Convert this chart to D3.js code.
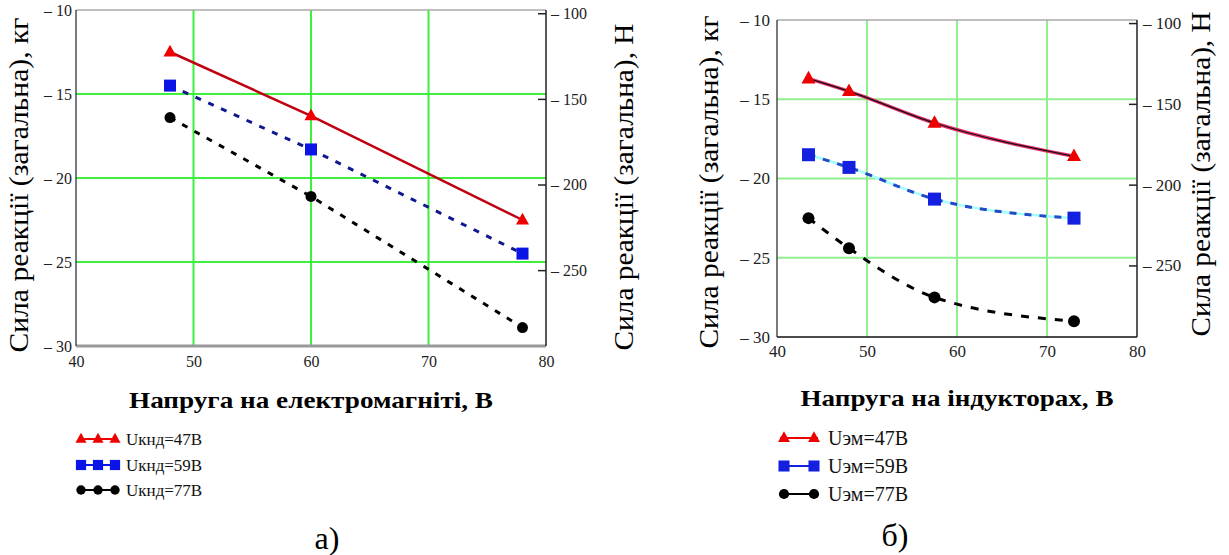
<!DOCTYPE html>
<html>
<head>
<meta charset="utf-8">
<script src="https://cdn.jsdelivr.net/npm/d3@7"></script>
<style>
  body { margin: 0; background: #fff; }
  svg text { font-family: 'Liberation Serif', 'Times New Roman', Tinos, 'Noto Serif', 'DejaVu Serif', serif !important; }
</style>
</head>
<body>
<div id="chart"></div>
<script>
// values
var xLeft = [48, 60, 78];
var redLeft = [-12.5, -16.3, -22.5];
var blueLeft = [-14.5, -18.3, -24.5];
var blackLeft = [-16.4, -21.1, -28.9];

var xRight = [43.5, 48, 57.5, 73];
var redRight = [-13.7, -14.5, -16.5, -18.6];
var blueRight = [-18.5, -19.3, -21.3, -22.5];
var blackRight = [-22.5, -24.4, -27.5, -29.0];

var xTicks = [40, 50, 60, 70, 80];
var kgTicks = [-10, -15, -20, -25, -30];
var nTicks = [-100, -150, -200, -250];
var gridX = [50, 60, 70];
var gridY = [-15, -20, -25];

var legendLeft = ["Uкнд=47В", "Uкнд=59В", "Uкнд=77В"];
var legendRight = ["Uэм=47В", "Uэм=59В", "Uэм=77В"];

var yTitle = "Сила реакції (загальна), кг";
var nTitle = "Сила реакції (загальна), Н";
var g = 9.81;
var serif = "'Liberation Serif', 'Times New Roman', Tinos, 'Noto Serif', 'DejaVu Serif', serif";

var svg = d3.select("#chart").append("svg")
    .attr("width", 1229)
    .attr("height", 555)
    .attr("font-family", serif);

function marker(sel, type, color, size) {
  if (type == "tri") {
    var h = size * 0.9;
    sel.append("path")
      .attr("d", "M0," + (-h * 0.62) + "L" + (size / 2) + "," + (h * 0.38) + "L" + (-size / 2) + "," + (h * 0.38) + "Z")
      .attr("fill", color);
  } else if (type == "sq") {
    sel.append("rect").attr("x", -size / 2).attr("y", -size / 2)
      .attr("width", size).attr("height", size).attr("fill", color);
  } else {
    sel.append("circle").attr("r", size / 2).attr("fill", color);
  }
}

function drawChart(c) {
  var x = d3.scaleLinear().domain([40, 80]).range([c.x0, c.x1]);
  var y = d3.scaleLinear().domain([-30, -10]).range([c.y1, c.y0]);
  var yn = d3.scaleLinear().domain([-30 * g, -10 * g]).range([c.y1, c.y0]);

  // grid
  svg.append("g").selectAll("line").data(gridX).enter().append("line")
    .attr("x1", function(d) { return x(d); }).attr("x2", function(d) { return x(d); })
    .attr("y1", c.y0).attr("y2", c.y1)
    .attr("stroke", c.grid).attr("stroke-width", 2);
  svg.append("g").selectAll("line").data(gridY).enter().append("line")
    .attr("y1", function(d) { return y(d); }).attr("y2", function(d) { return y(d); })
    .attr("x1", c.x0).attr("x2", c.x1)
    .attr("stroke", c.grid).attr("stroke-width", 2);

  // frame
  svg.append("line").attr("x1", c.x0).attr("x2", c.x1).attr("y1", c.y0).attr("y2", c.y0)
    .attr("stroke", "#aaa").attr("stroke-width", 1.5);
  svg.append("line").attr("x1", c.x0).attr("x2", c.x1).attr("y1", c.y1).attr("y2", c.y1)
    .attr("stroke", c.bottomColor).attr("stroke-width", c.bottomWidth);
  svg.append("line").attr("x1", c.x0).attr("x2", c.x0).attr("y1", c.y0).attr("y2", c.y1)
    .attr("stroke", "#222").attr("stroke-width", 1.2);
  svg.append("line").attr("x1", c.x1).attr("x2", c.x1).attr("y1", c.y0).attr("y2", c.y1)
    .attr("stroke", "#222").attr("stroke-width", 1.5);

  // axes
  var ax = svg.append("g").attr("transform", "translate(0," + c.y1 + ")")
    .call(d3.axisBottom(x).tickValues(xTicks).tickSize(0).tickPadding(c.xPad));
  var al = svg.append("g").attr("transform", "translate(" + c.x0 + ",0)")
    .call(d3.axisLeft(y).tickValues(kgTicks).tickSize(0).tickPadding(c.lPad)
      .tickFormat(function(d) { return "– " + Math.abs(d); }));
  var ar = svg.append("g").attr("transform", "translate(" + c.x1 + ",0)")
    .call(d3.axisRight(yn).tickValues(nTicks).tickSize(-8).tickPadding(c.rPad)
      .tickFormat(function(d) { return "– " + Math.abs(d); }));
  [ax, al, ar].forEach(function(a) {
    a.attr("font-family", serif);
    a.select(".domain").remove();
    a.selectAll("text").attr("font-size", c.tickFont).attr("fill", "#222");
    a.selectAll("line").attr("stroke", "#222").attr("stroke-width", 1.5);
  });

  // series
  c.series.forEach(function(s) {
    var pts = c.xs.map(function(d, i) { return [x(d), y(s.values[i])]; });
    var line = d3.line().curve(c.curve);
    s.strokes.forEach(function(st) {
      svg.append("path").attr("d", line(pts)).attr("fill", "none")
        .attr("stroke", st.color).attr("stroke-width", st.width)
        .attr("stroke-dasharray", st.dash || null);
    });
    pts.forEach(function(p) {
      marker(svg.append("g").attr("transform", "translate(" + p[0] + "," + p[1] + ")"), s.type, s.color, s.size);
    });
  });

  // titles
  svg.append("text").attr("transform", "translate(" + c.ltx + "," + c.lty + ") rotate(-90)")
    .attr("text-anchor", "middle").attr("dy", "0.35em").attr("font-size", 28)
    .attr("textLength", c.tLen).attr("lengthAdjust", "spacingAndGlyphs").text(yTitle);
  svg.append("text").attr("transform", "translate(" + c.rtx + "," + c.rty + ") rotate(-90)")
    .attr("text-anchor", "middle").attr("dy", "0.35em").attr("font-size", 28)
    .attr("textLength", c.tLen - 8).attr("lengthAdjust", "spacingAndGlyphs").text(nTitle);
  svg.append("text").attr("x", (c.x0 + c.x1) / 2).attr("y", c.xTitleY)
    .attr("text-anchor", "middle").attr("font-size", 24).attr("font-weight", "bold")
    .attr("textLength", c.xtLen).attr("lengthAdjust", "spacingAndGlyphs")
    .text(c.xTitle);

  // legend
  c.series.forEach(function(s, i) {
    var ly = c.legY[i];
    svg.append("line").attr("x1", c.legX0).attr("x2", c.legX1).attr("y1", ly).attr("y2", ly)
      .attr("stroke", s.color).attr("stroke-width", 2);
    c.legMarks.forEach(function(mx) {
      marker(svg.append("g").attr("transform", "translate(" + mx + "," + ly + ")"), s.type, s.color, s.size * 0.85);
    });
    svg.append("text").attr("x", c.legTx).attr("y", ly).attr("dy", "0.35em")
      .attr("font-size", c.legFont).attr("fill", "#111").text(c.legend[i]);
  });

  svg.append("text").attr("x", c.capX).attr("y", c.capY).attr("text-anchor", "middle")
    .attr("font-size", 32).text(c.caption);
}

drawChart({
  x0: 76, x1: 546, y0: 10, y1: 346,
  grid: "#3cf03c", bottomColor: "#999", bottomWidth: 3,
  xPad: 10, lPad: 4, rPad: 5, tickFont: 16,
  xs: xLeft, curve: d3.curveLinear,
  series: [
    { values: redLeft, type: "tri", color: "#ee0000", size: 13,
      strokes: [{ color: "#c00010", width: 2.5 }] },
    { values: blueLeft, type: "sq", color: "#0a14e6", size: 12,
      strokes: [{ color: "#101890", width: 3, dash: "6,8" }] },
    { values: blackLeft, type: "circ", color: "#000", size: 11,
      strokes: [{ color: "#000", width: 3, dash: "6,8" }] }
  ],
  ltx: 18, lty: 185, rtx: 623, rty: 187, tLen: 335,
  xTitle: "Напруга на електромагніті, В", xTitleY: 408, xtLen: 364,
  legend: legendLeft, legY: [439, 465, 490], legX0: 78, legX1: 118,
  legMarks: [81, 98, 115], legTx: 126, legFont: 17,
  caption: "а)", capX: 327, capY: 549
});

drawChart({
  x0: 777, x1: 1137, y0: 20, y1: 337,
  grid: "#90f090", bottomColor: "#111", bottomWidth: 1.5,
  xPad: 8, lPad: 7, rPad: 6, tickFont: 17,
  xs: xRight, curve: d3.curveMonotoneX,
  series: [
    { values: redRight, type: "tri", color: "#ee0000", size: 14,
      strokes: [{ color: "#e8306a", width: 3.5 }, { color: "#111", width: 1.2 }] },
    { values: blueRight, type: "sq", color: "#1420e0", size: 13,
      strokes: [{ color: "#a0ffff", width: 2.5 }, { color: "#2848c8", width: 3, dash: "7,8" }] },
    { values: blackRight, type: "circ", color: "#000", size: 12,
      strokes: [{ color: "#000", width: 3, dash: "8,9" }] }
  ],
  ltx: 708, lty: 182, rtx: 1200, rty: 174, tLen: 333,
  xTitle: "Напруга на індукторах, В", xTitleY: 406, xtLen: 313,
  legend: legendRight, legY: [438, 466, 494], legX0: 780, legX1: 818,
  legMarks: [784, 814], legTx: 828, legFont: 20,
  caption: "б)", capX: 895, capY: 546
});
</script>
</body>
</html>
